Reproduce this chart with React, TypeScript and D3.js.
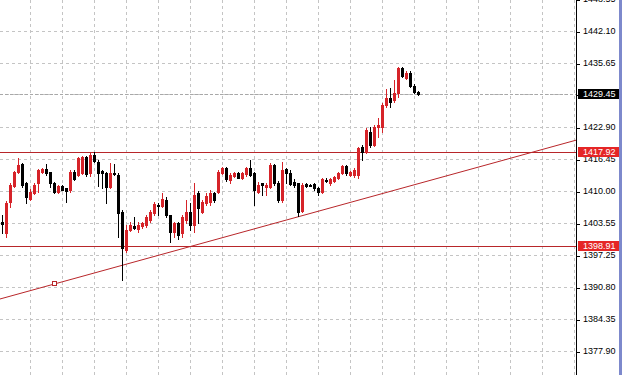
import React from "react";
import * as d3 from "d3";

// OHLC candles (price units)
const opens = [
  1403.8, 1401.6, 1407.8, 1411.0, 1413.8, 1415.4, 1411.6, 1408.4, 1409.6, 1411.6,
  1413.8, 1414.4, 1413.8, 1411.6, 1409.8, 1411.0, 1410.6, 1410.2, 1413.8, 1413.2,
  1413.6, 1416.8, 1413.6, 1417.2, 1415.8, 1414.0, 1413.6, 1410.8, 1413.6, 1413.2,
  1405.8, 1398.2, 1402.2, 1403.0, 1402.4, 1403.0, 1403.2, 1404.2, 1405.6, 1407.2,
  1407.0, 1408.2, 1405.2, 1401.8, 1403.6, 1401.6, 1404.2, 1405.8, 1403.2, 1409.6,
  1405.8, 1407.6, 1407.8, 1409.6, 1409.8, 1413.6, 1414.6, 1412.2, 1413.0, 1413.6,
  1412.6, 1413.4, 1414.6, 1413.6, 1409.8, 1411.6, 1410.8, 1410.8, 1415.2, 1411.6,
  1408.2, 1414.4, 1413.6, 1411.8, 1411.6, 1406.0, 1411.4, 1411.2, 1411.4, 1410.6,
  1409.8, 1412.2, 1411.6, 1412.0, 1412.6, 1413.6, 1415.0, 1413.2, 1413.2, 1413.2,
  1418.8, 1417.8, 1421.8, 1419.2, 1422.8, 1422.8, 1427.2, 1428.6, 1428.2, 1429.6,
  1434.6, 1432.6, 1433.6, 1431.0, 1429.8,
];
const highs = [
  1405.2, 1408.0, 1411.6, 1414.0, 1416.6, 1415.6, 1411.8, 1410.4, 1411.6, 1414.4,
  1414.6, 1415.4, 1413.8, 1411.8, 1411.2, 1411.2, 1410.6, 1414.2, 1414.2, 1416.8,
  1417.0, 1417.0, 1417.6, 1417.8, 1416.2, 1414.2, 1413.8, 1415.6, 1415.4, 1413.6,
  1406.2, 1403.2, 1403.8, 1404.8, 1403.8, 1403.8, 1405.2, 1406.2, 1407.8, 1407.6,
  1409.6, 1408.8, 1405.2, 1403.8, 1403.8, 1405.2, 1408.2, 1407.6, 1411.6, 1410.0,
  1408.2, 1409.6, 1410.2, 1409.8, 1414.2, 1414.8, 1414.8, 1413.6, 1413.8, 1413.8,
  1413.8, 1414.8, 1416.2, 1413.8, 1411.8, 1411.6, 1411.6, 1415.6, 1415.4, 1412.0,
  1415.8, 1414.6, 1414.2, 1412.4, 1411.6, 1411.6, 1411.6, 1411.4, 1411.6, 1410.8,
  1412.6, 1412.6, 1412.6, 1413.0, 1413.8, 1415.2, 1415.2, 1414.0, 1414.6, 1418.8,
  1419.2, 1422.6, 1422.8, 1423.2, 1424.6, 1427.6, 1430.4, 1430.6, 1432.2, 1434.8,
  1434.8, 1434.0, 1434.0, 1431.4, 1430.0,
];
const lows = [
  1401.6, 1400.8, 1406.8, 1410.8, 1413.6, 1410.8, 1407.6, 1408.2, 1409.4, 1409.8,
  1413.6, 1413.2, 1410.8, 1409.6, 1409.6, 1410.2, 1407.8, 1409.8, 1412.2, 1413.0,
  1413.4, 1413.0, 1413.0, 1415.8, 1411.0, 1410.6, 1407.6, 1410.6, 1413.2, 1400.8,
  1392.2, 1397.8, 1402.0, 1402.4, 1401.8, 1402.6, 1402.8, 1403.8, 1405.2, 1405.2,
  1406.8, 1404.8, 1399.8, 1400.8, 1400.4, 1400.8, 1403.6, 1402.2, 1401.8, 1403.6,
  1405.6, 1407.2, 1407.2, 1407.8, 1409.6, 1413.4, 1412.0, 1411.6, 1412.8, 1412.6,
  1412.4, 1413.0, 1413.0, 1407.2, 1409.6, 1409.2, 1409.2, 1410.6, 1411.2, 1407.8,
  1407.8, 1411.6, 1411.2, 1410.8, 1405.0, 1405.8, 1410.8, 1411.0, 1410.2, 1409.2,
  1409.6, 1411.8, 1411.2, 1411.8, 1412.4, 1413.4, 1413.2, 1413.0, 1412.8, 1412.6,
  1416.2, 1417.6, 1418.8, 1419.0, 1420.8, 1421.8, 1426.8, 1426.8, 1427.8, 1428.8,
  1432.8, 1432.4, 1430.8, 1429.6, 1429.2,
];
const closes = [
  1403.4, 1407.6, 1411.2, 1413.8, 1415.2, 1411.2, 1408.8, 1409.8, 1411.2, 1414.2,
  1414.4, 1413.6, 1411.6, 1409.8, 1411.0, 1410.2, 1410.0, 1413.8, 1412.4, 1416.6,
  1416.8, 1413.4, 1417.2, 1416.0, 1413.6, 1413.6, 1410.8, 1413.6, 1413.4, 1405.6,
  1398.6, 1402.2, 1403.2, 1402.6, 1403.2, 1403.6, 1404.8, 1405.8, 1407.4, 1407.0,
  1408.4, 1405.2, 1401.8, 1403.6, 1401.2, 1404.8, 1405.8, 1403.2, 1409.2, 1406.6,
  1407.8, 1409.0, 1409.6, 1408.2, 1413.8, 1414.6, 1412.4, 1413.2, 1413.6, 1412.6,
  1413.6, 1414.6, 1413.2, 1410.2, 1411.2, 1411.2, 1411.2, 1415.2, 1411.6, 1408.2,
  1414.2, 1413.6, 1411.4, 1411.2, 1405.8, 1411.2, 1411.0, 1411.1, 1410.6, 1409.8,
  1412.4, 1412.0, 1412.4, 1412.8, 1413.6, 1415.0, 1413.6, 1413.8, 1414.2, 1418.6,
  1417.8, 1422.2, 1419.2, 1422.8, 1423.2, 1427.2, 1428.6, 1427.8, 1429.6, 1434.6,
  1433.0, 1433.6, 1431.0, 1429.8, 1429.45,
];

// Price axis labels
const tickLabels = [
  "1448.55", "1442.10", "1435.65", "1429.45", "1422.90", "1416.45",
  "1410.00", "1403.55", "1397.25", "1390.80", "1384.35", "1377.90",
];

// Horizontal price levels and current bid
const levelPrices = [1417.92, 1398.91];
const bidPrice = 1429.45;

// Trend line anchors: [bar index, price]
const trendBars = [13, 100];
const trendPrices = [1391.35, 1410.6];

// Vertical grid at bar indices
const gridBars = d3.range(7, 144, 8);

const W = 622;
const H = 375;
const PLOT_R = 576;
const RED_CANDLE = "#d62329";
const LEVEL_RED = "#b8262a";
const BOX_RED = "#e52626";
const GRID = "#c4c4c4";
const FONT = "'Liberation Sans', Arial, sans-serif";

export default function App() {
  const x = d3.scaleLinear().domain([0, 144]).range([2.5, 578.5]);
  const y = d3.scaleLinear().domain([1377.9, 1442.1]).range([351, 31]);

  const candles = opens.map((o, i) => ({
    o,
    h: highs[i],
    l: lows[i],
    c: closes[i],
    i,
  }));

  const slope = (trendPrices[1] - trendPrices[0]) / (trendBars[1] - trendBars[0]);
  const xAt0 = x.invert(0);
  const xAtR = x.invert(PLOT_R);
  const tp = (b: number) => trendPrices[0] + slope * (b - trendBars[0]);

  return (
    <div style={{ position: "absolute", left: 0, top: 0 }}>
      <svg width={W} height={H} style={{ display: "block", background: "#fff" }}>
        <defs>
          <clipPath id="plot">
            <rect x={0} y={0} width={PLOT_R} height={H} />
          </clipPath>
        </defs>
        {/* grid */}
        <g stroke={GRID} strokeWidth={1} strokeDasharray="3,3">
          {gridBars.map((b) => (
            <line key={"v" + b} x1={x(b)} x2={x(b)} y1={0} y2={H} />
          ))}
          {tickLabels.map((t) => {
            const yy = Math.round(y(+t)) + 0.5;
            return <line key={"h" + t} x1={0} x2={PLOT_R} y1={yy} y2={yy} />;
          })}
        </g>
        {/* bid line */}
        <line
          x1={0}
          x2={PLOT_R}
          y1={Math.round(y(bidPrice)) + 0.5}
          y2={Math.round(y(bidPrice)) + 0.5}
          stroke="#a8a8a8"
          strokeDasharray="3,2"
        />
        {/* level lines */}
        {levelPrices.map((p) => {
          const yy = Math.round(y(p)) + 0.5;
          return (
            <line key={"l" + p} x1={0} x2={PLOT_R} y1={yy} y2={yy} stroke={LEVEL_RED} strokeWidth={1} />
          );
        })}
        {/* trend line */}
        <g clipPath="url(#plot)">
          <line
            x1={x(xAt0)}
            y1={y(tp(xAt0))}
            x2={x(xAtR)}
            y2={y(tp(xAtR))}
            stroke={LEVEL_RED}
            strokeWidth={1}
          />
        </g>
        <rect
          x={Math.round(x(trendBars[0])) - 2.5}
          y={Math.round(y(trendPrices[0])) - 2.5}
          width={4}
          height={4}
          fill="#fff"
          stroke={LEVEL_RED}
          strokeWidth={1}
        />
        {/* candles */}
        <g>
          {candles.map((d) => {
            const cx = x(d.i);
            const bull = d.c >= d.o;
            const col = bull && d.c !== d.o ? RED_CANDLE : "#000";
            const yh = Math.round(y(d.h));
            const yl = Math.round(y(d.l));
            const top = Math.round(y(Math.max(d.o, d.c)));
            const bot = Math.round(y(Math.min(d.o, d.c)));
            return (
              <g key={d.i}>
                <rect x={cx - 0.5} y={yh} width={1} height={Math.max(1, yl - yh + 1)} fill={col} />
                <rect x={cx - 1.5} y={top} width={3} height={Math.max(1, bot - top + 1)} fill={col} />
              </g>
            );
          })}
        </g>
        {/* axis */}
        <line x1={PLOT_R + 0.5} x2={PLOT_R + 0.5} y1={0} y2={H} stroke="#000" />
        <g fontFamily={FONT} fontSize={9} fill="#000">
          {tickLabels.map((t) => {
            const yy = Math.round(y(+t));
            return (
              <g key={"t" + t}>
                <line x1={PLOT_R} x2={PLOT_R + 4} y1={yy + 1.5} y2={yy + 1.5} stroke="#000" />
                <text x={583} y={yy} dy="0.35em">
                  {t}
                </text>
              </g>
            );
          })}
        </g>
        {/* highlighted price labels */}
        {[bidPrice, ...levelPrices].map((p, k) => {
          const yy = Math.round(y(p));
          return (
            <g key={"b" + p}>
              <rect x={578} y={yy - 5} width={41} height={10} fill={k === 0 ? "#000" : BOX_RED} />
              <text x={583} y={yy} dy="0.35em" fontFamily={FONT} fontSize={9} fill="#fff">
                {p.toFixed(2)}
              </text>
            </g>
          );
        })}
        {/* right edge strip */}
        <rect x={619} y={0} width={3} height={H} fill="#7d89cc" />
      </svg>
    </div>
  );
}
